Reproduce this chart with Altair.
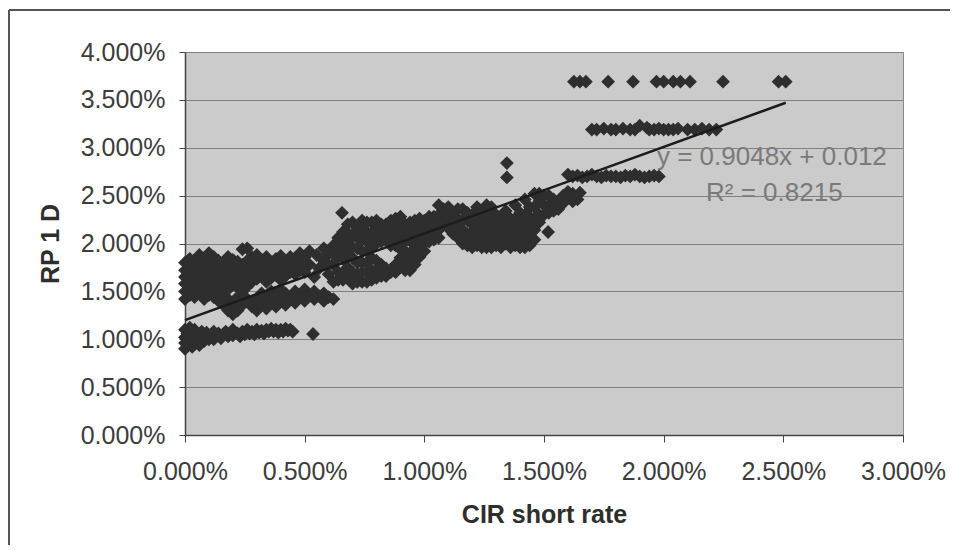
import altair as alt
import pandas as pd

# ---- values (percent units) ----
x_ticks = [0.0, 0.005, 0.01, 0.015, 0.02, 0.025, 0.03]
y_ticks = [0.0, 0.005, 0.01, 0.015, 0.02, 0.025, 0.03, 0.035, 0.04]

band_low = [(0.00,0.90),(0.00,0.96),(0.00,1.02),(0.00,1.10),(0.01,0.93),(0.01,0.99),(0.01,1.06),
            (0.02,0.95),(0.02,1.02),(0.02,1.12),(0.03,0.92),(0.03,0.98),(0.03,1.06),(0.04,0.95),
            (0.04,1.01),(0.04,1.10),(0.05,0.97),(0.05,1.04),(0.06,0.94),(0.06,1.00),(0.07,1.03),
            (0.07,1.08),(0.08,0.98),(0.09,1.02),(0.09,1.07),(0.10,1.00),(0.11,1.04),(0.12,1.00),
            (0.12,1.08),(0.13,1.03),(0.14,1.06),(0.15,1.01),(0.16,1.05),(0.17,1.08),(0.18,1.03),
            (0.19,1.06),(0.20,1.04),(0.20,1.10),(0.22,1.06),(0.23,1.03),(0.24,1.08),(0.25,1.05),
            (0.26,1.10),(0.27,1.06),(0.28,1.08),(0.29,1.05),(0.30,1.10),(0.31,1.07),(0.32,1.09),
            (0.33,1.06),(0.34,1.10),(0.35,1.08),(0.36,1.11),(0.37,1.08),(0.38,1.10),(0.39,1.07),
            (0.40,1.10),(0.41,1.08),(0.42,1.11),(0.43,1.09),(0.44,1.10),(0.45,1.08),(0.535,1.055)]

blob_left = [(0.00,1.42),(0.00,1.50),(0.00,1.58),(0.00,1.65),(0.00,1.72),(0.00,1.80),
             (0.02,1.46),(0.02,1.54),(0.02,1.62),(0.02,1.70),(0.02,1.78),(0.02,1.84),
             (0.04,1.44),(0.04,1.52),(0.04,1.60),(0.04,1.68),(0.04,1.76),(0.04,1.82),
             (0.06,1.48),(0.06,1.56),(0.06,1.64),(0.06,1.73),(0.06,1.80),(0.06,1.88),
             (0.08,1.42),(0.08,1.50),(0.08,1.59),(0.08,1.67),(0.08,1.76),(0.08,1.84),
             (0.10,1.46),(0.10,1.55),(0.10,1.63),(0.10,1.71),(0.10,1.79),(0.10,1.90),
             (0.12,1.44),(0.12,1.52),(0.12,1.61),(0.12,1.69),(0.12,1.77),(0.12,1.86),
             (0.14,1.40),(0.14,1.49),(0.14,1.58),(0.14,1.66),(0.14,1.74),(0.14,1.82),
             (0.16,1.36),(0.16,1.46),(0.16,1.55),(0.16,1.64),(0.16,1.72),(0.16,1.80),
             (0.18,1.30),(0.18,1.42),(0.18,1.52),(0.18,1.61),(0.18,1.70),(0.18,1.78),(0.18,1.86),
             (0.20,1.26),(0.20,1.38),(0.20,1.58),(0.20,1.67),(0.20,1.76),(0.20,1.83),
             (0.22,1.30),(0.22,1.44),(0.22,1.54),(0.22,1.64),(0.22,1.73),(0.22,1.81),
             (0.24,1.36),(0.24,1.50),(0.24,1.60),(0.24,1.69),(0.24,1.78),(0.24,1.94),
             (0.26,1.42),(0.26,1.55),(0.26,1.64),(0.26,1.73),(0.26,1.82),(0.26,1.95),
             (0.28,1.60),(0.28,1.68),(0.28,1.77),(0.28,1.86),(0.30,1.63),(0.30,1.72),
             (0.30,1.80),(0.30,1.88),(0.32,1.66),(0.32,1.74),(0.32,1.83),(0.34,1.60),
             (0.34,1.69),(0.34,1.78),(0.34,1.86),(0.36,1.64),(0.36,1.72),(0.36,1.80),
             (0.38,1.67),(0.38,1.76),(0.38,1.84),(0.40,1.62),(0.40,1.70),(0.40,1.79),
             (0.40,1.87),(0.42,1.66),(0.42,1.74),(0.42,1.82),(0.44,1.70),(0.44,1.78),
             (0.44,1.86),(0.46,1.68),(0.46,1.76),(0.46,1.84),(0.48,1.72),(0.48,1.80),
             (0.48,1.88),(0.50,1.75),(0.50,1.86)]

band_mid = [(0.28,1.34),(0.30,1.30),(0.30,1.42),(0.32,1.36),(0.32,1.48),(0.34,1.32),(0.34,1.44),
            (0.36,1.38),(0.36,1.50),(0.38,1.34),(0.38,1.46),(0.40,1.40),(0.40,1.52),(0.42,1.36),
            (0.42,1.48),(0.44,1.42),(0.46,1.38),(0.46,1.50),(0.48,1.44),(0.50,1.40),(0.50,1.52),
            (0.52,1.46),(0.54,1.42),(0.54,1.50),(0.56,1.45),(0.58,1.40),(0.58,1.48),(0.60,1.44),
            (0.62,1.42)]

cluster_mid = [(0.50,1.70),(0.52,1.78),(0.54,1.65),(0.56,1.74),(0.58,1.82),(0.60,1.68),(0.60,1.90),
               (0.62,1.60),(0.62,1.78),(0.62,1.98),(0.64,1.70),(0.64,1.86),(0.64,2.06),(0.66,1.62),
               (0.66,1.94),(0.66,2.12),(0.656,2.32),(0.68,1.75),(0.68,2.02),(0.68,2.20),(0.70,1.58),
               (0.70,1.85),(0.70,2.10),(0.72,1.68),(0.72,1.95),(0.72,2.18),(0.74,1.60),(0.74,1.80),
               (0.74,2.04),(0.74,2.24),(0.76,1.70),(0.76,1.92),(0.76,2.12),(0.78,1.62),(0.78,1.85),
               (0.78,2.06),(0.78,2.22),(0.80,1.72),(0.80,2.00),(0.80,2.16),(0.82,1.66),(0.82,1.78),
               (0.82,2.10),(0.84,1.74),(0.84,2.04),(0.84,2.20),(0.86,1.70),(0.86,1.98),(0.86,2.14),
               (0.88,1.78),(0.88,2.08),(0.88,2.26),(0.90,1.85),(0.90,2.00),(0.90,2.18),(0.92,1.72),
               (0.92,1.92),(0.92,2.10),(0.94,1.80),(0.94,2.04),(0.94,2.22),(0.96,1.88),(0.96,2.14),
               (0.98,1.95),(0.98,2.06),(0.98,2.26),(1.00,2.00),(1.00,2.16),(1.02,2.10),(1.02,2.28),
               (1.04,2.04),(1.04,2.20),(1.06,2.14),(0.50,1.86),(0.52,1.92),(0.55,1.88),(0.58,1.95),
               (0.48,1.90)]

cluster_mid_fill = [(0.60,1.78),(0.62,1.88),(0.64,1.62),(0.64,1.96),(0.66,1.70),(0.66,1.84),
                    (0.66,2.02),(0.68,1.64),(0.68,1.90),(0.68,2.10),(0.70,1.70),(0.70,1.96),
                    (0.70,2.22),(0.72,1.60),(0.72,1.80),(0.72,2.06),(0.74,1.70),(0.74,1.92),
                    (0.74,2.14),(0.76,1.60),(0.76,1.80),(0.76,2.02),(0.76,2.22),(0.78,1.72),
                    (0.78,1.96),(0.80,1.64),(0.80,1.82),(0.80,2.08),(0.80,2.24),(0.82,2.02),
                    (0.82,2.20),(0.84,1.66),(0.84,2.12),(0.86,2.06),(0.86,2.24),(0.88,1.70),
                    (0.88,1.98),(0.88,2.16),(0.90,1.76),(0.90,1.94),(0.90,2.08),(0.90,2.28),
                    (0.92,1.82),(0.92,2.02),(0.92,2.20),(0.94,1.72),(0.94,1.90),(0.94,2.12),
                    (0.96,1.78),(0.96,1.98),(0.96,2.06),(0.96,2.24),(0.98,1.86),(0.98,2.16),
                    (1.00,1.92),(1.00,2.08),(1.00,2.24),(1.02,2.02),(1.02,2.18),(1.04,2.12),
                    (1.04,2.28),(1.06,2.06),(1.06,2.22)]

cluster_high = [(1.06,2.30),(1.08,2.22),(1.08,2.36),(1.10,2.16),(1.10,2.28),(1.12,2.20),(1.12,2.32),
                (1.14,2.06),(1.14,2.26),(1.16,2.00),(1.16,2.14),(1.16,2.36),(1.18,1.98),(1.18,2.10),
                (1.18,2.24),(1.20,2.04),(1.20,2.30),(1.22,1.98),(1.22,2.14),(1.22,2.38),(1.24,2.02),
                (1.24,2.22),(1.26,1.96),(1.26,2.10),(1.26,2.40),(1.28,2.00),(1.28,2.18),(1.30,2.06),
                (1.30,2.30),(1.32,1.96),(1.32,2.12),(1.34,2.00),(1.34,2.22),(1.34,2.34),(1.36,2.04),
                (1.36,2.16),(1.38,1.98),(1.38,2.26),(1.38,2.40),(1.40,2.02),(1.40,2.14),(1.40,2.32),
                (1.42,1.96),(1.42,2.20),(1.42,2.46),(1.44,2.06),(1.44,2.28),(1.46,2.14),(1.46,2.38),
                (1.46,2.52),(1.48,2.22),(1.48,2.44),(1.50,2.30),(1.50,2.50),(1.517,2.12),(1.52,2.40),
                (1.54,2.46),(1.54,2.34),(1.56,2.44),(1.58,2.50),(1.60,2.48),(1.62,2.52),(1.64,2.46),
                (1.65,2.53),(1.345,2.84),(1.345,2.69)]

cluster_high_fill = [(1.06,2.40),(1.10,2.38),(1.12,2.10),(1.14,2.16),(1.14,2.36),(1.16,2.06),
                     (1.16,2.24),(1.18,2.04),(1.18,2.32),(1.20,1.96),(1.20,2.12),(1.20,2.20),
                     (1.22,2.06),(1.22,2.24),(1.24,1.96),(1.24,2.12),(1.24,2.32),(1.26,2.04),
                     (1.26,2.18),(1.26,2.30),(1.28,1.96),(1.28,2.08),(1.28,2.26),(1.28,2.38),
                     (1.30,1.98),(1.30,2.14),(1.30,2.22),(1.32,2.04),(1.32,2.20),(1.32,2.28),
                     (1.34,2.08),(1.36,1.96),(1.36,2.26),(1.38,2.08),(1.38,2.18),(1.40,1.96),
                     (1.40,2.22),(1.42,2.04),(1.42,2.12),(1.42,2.30),(1.44,1.98),(1.44,2.18),
                     (1.44,2.38),(1.46,2.04),(1.46,2.26),(1.48,2.30),(1.48,2.52),(1.50,2.40),
                     (1.52,2.32),(1.52,2.50),(1.56,2.36),(1.58,2.42),(1.60,2.54),(1.62,2.44)]

row_27 = [(1.60,2.72),(1.62,2.70),(1.64,2.71),(1.66,2.69),(1.68,2.70),(1.70,2.72),(1.72,2.70),
          (1.74,2.69),(1.76,2.71),(1.78,2.70),(1.80,2.70),(1.82,2.69),(1.84,2.71),(1.86,2.70),
          (1.88,2.72),(1.90,2.70),(1.92,2.69),(1.94,2.70),(1.96,2.71),(1.98,2.70)]

row_32 = [(1.70,3.19),(1.72,3.19),(1.75,3.20),(1.78,3.19),(1.80,3.19),(1.83,3.20),(1.86,3.19),
          (1.88,3.19),(1.90,3.23),(1.93,3.21),(1.94,3.19),(1.96,3.19),(1.98,3.20),(2.00,3.19),
          (2.02,3.19),(2.04,3.19),(2.06,3.20),(2.10,3.19),(2.13,3.19),(2.16,3.20),(2.19,3.19),
          (2.22,3.19)]

row_37 = [(1.625,3.69),(1.65,3.69),(1.675,3.69),(1.768,3.69),(1.872,3.69),(1.97,3.69),(2.00,3.69),
          (2.04,3.69),(2.07,3.69),(2.11,3.69),(2.248,3.69),(2.48,3.69),(2.51,3.69)]

trend_x = [0.0, 2.51]
trend_y = [1.20, 3.47]

labels_text = ["y = 0.9048x + 0.012", "R\u00b2 = 0.8215"]
labels_x = [1.972, 2.177]
labels_y = [2.90, 2.53]

# ---- build tables ----
pts = (band_low + blob_left + band_mid + cluster_mid + cluster_mid_fill + cluster_high
       + cluster_high_fill + row_27 + row_32 + row_37)
df = pd.DataFrame({"x": [p[0] / 100 for p in pts], "y": [p[1] / 100 for p in pts]})
df_trend = pd.DataFrame({"x": [v / 100 for v in trend_x], "y": [v / 100 for v in trend_y]})
df_text = pd.DataFrame({"x": [v / 100 for v in labels_x], "y": [v / 100 for v in labels_y],
                        "t": labels_text})

FONT = "Liberation Sans"
x_scale = alt.Scale(domain=[0, 0.03], nice=False, zero=False)
y_scale = alt.Scale(domain=[0, 0.04], nice=False, zero=False)

x_axis = alt.Axis(values=x_ticks, format=".3%", title="CIR short rate", grid=False,
                  tickSize=7, labelPadding=17, titleX=359, titleY=79,
                  titleBaseline="middle", titleAlign="center", labelFlush=False)
y_axis = alt.Axis(values=y_ticks, format=".3%", title="RP 1 D", grid=True,
                  tickSize=6, labelPadding=14, titleX=-135, titleY=191.5,
                  titleAngle=270, titleBaseline="middle", titleAlign="center",
                  labelFlush=False)

X = alt.X("x:Q", scale=x_scale, axis=x_axis)
Y = alt.Y("y:Q", scale=y_scale, axis=y_axis)

points = alt.Chart(df).mark_point(
    shape="diamond", filled=True, size=190, color="#2e2e2e", opacity=1
).encode(x=X, y=Y)

trend = alt.Chart(df_trend).mark_line(color="#1c1c1c", strokeWidth=2.5).encode(x=X, y=Y)

eq = alt.Chart(df_text).mark_text(
    align="left", baseline="middle", fontSize=26, font=FONT, color="#7a7a7a"
).encode(x=X, y=Y, text="t:N")

frame_df = pd.DataFrame({"a": [0]})
border_left = alt.Chart(frame_df).mark_rule(color="#555555", strokeWidth=2, clip=False).encode(
    x=alt.value(-176), y=alt.value(-42), y2=alt.value(520))
border_top = alt.Chart(frame_df).mark_rule(color="#555555", strokeWidth=2, clip=False).encode(
    x=alt.value(-176), x2=alt.value(900), y=alt.value(-42))

chart = alt.layer(points, trend, eq, border_left, border_top).properties(
    width=718, height=383,
    autosize=alt.AutoSizeParams(type="none"),
    padding={"left": 177, "top": 44, "right": 47, "bottom": 110},
    background="#ffffff",
).configure_view(
    fill="#cbcbcb", stroke="#8a8a8a", strokeWidth=1
).configure_axis(
    labelFont=FONT, titleFont=FONT, labelFontSize=25, titleFontSize=25,
    labelColor="#3c3c3c", titleColor="#2e2e2e", titleFontWeight="bold",
    domainColor="#444444", tickColor="#444444", gridColor="#808080",
    gridWidth=1, domainWidth=1.5
)

chart.save("out.html", embed_options={"renderer": "svg", "actions": False})
